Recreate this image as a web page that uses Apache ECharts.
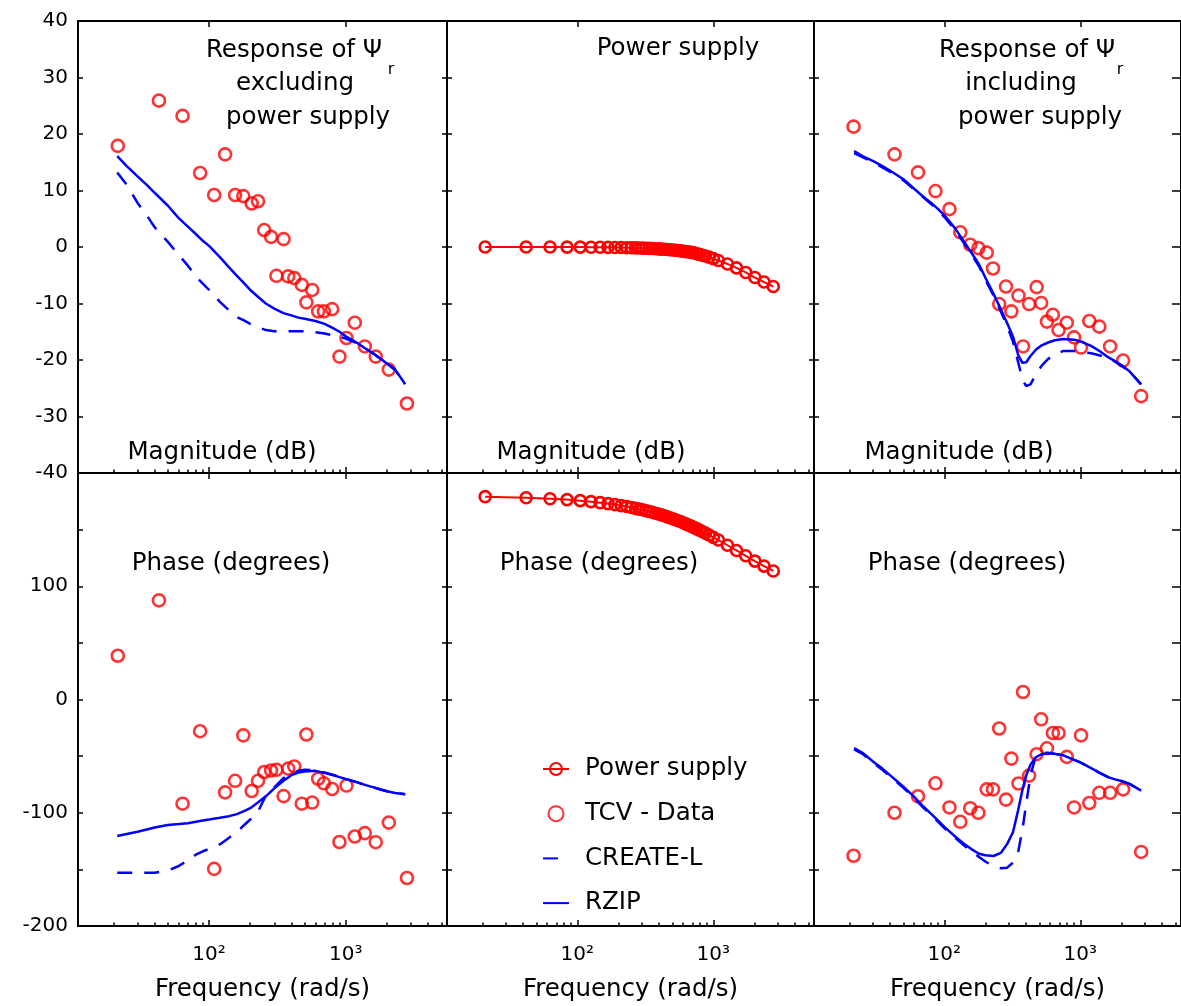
<!DOCTYPE html>
<html>
<head>
<meta charset="utf-8">
<title>Frequency response of Psi_r</title>
<script src="https://cdn.jsdelivr.net/npm/echarts@6/dist/echarts.min.js"></script>
<style>
  html, body { margin: 0; padding: 0; background: #ffffff; }
  #chart { width: 1181px; height: 1006px; }
</style>
</head>
<body>
<div id="chart"></div>
<script>
// ---------- measured TCV data (shared frequency points, rad/s) ----------
const tcvFreq = [21.5, 43, 64, 86, 109, 131, 155, 178, 205, 228, 253, 284, 311, 351, 379, 420, 477, 515, 568, 628, 692, 795, 899, 1012, 1164, 1378, 1656, 2064, 2802];
// response excluding the power supply
const tcvExclMag = [17.9, 25.9, 23.2, 13.1, 9.2, 16.4, 9.2, 9.0, 7.7, 8.1, 3.0, 1.8, -5.1, 1.4, -5.2, -5.5, -6.7, -9.8, -7.6, -11.4, -11.4, -11.0, -19.4, -16.1, -13.4, -17.6, -19.4, -21.7, -27.7];
const tcvExclPhase = [38.6, 87.5, -92, -28, -149.6, -82, -71.8, -31.7, -80.8, -71.8, -64, -62.7, -62, -85.3, -61, -59.1, -92, -30.9, -91, -70, -74, -79, -125.8, -76, -121, -118, -126, -108.7, -157.6];
// response including the power supply
const tcvInclMag = [21.3, 16.4, 13.2, 9.9, 6.7, 2.6, 0.4, -0.2, -1.0, -3.8, -10.1, -7.0, -11.4, -8.6, -17.6, -10.1, -7.1, -9.9, -13.2, -12.0, -14.7, -13.4, -16.0, -17.8, -13.1, -14.1, -17.6, -20.1, -26.4];
const tcvInclPhase = [-138, -100, -85.4, -74, -95.3, -108, -96, -100, -79.4, -79.4, -25.6, -88.4, -52.2, -74.2, 6.6, -67.2, -48.3, -17.5, -43.1, -29.6, -29.6, -50.7, -95.3, -31.7, -91.4, -82.4, -82.4, -79.4, -134.6];

// ---------- power supply ----------
const psFreq = [21, 42, 63, 84, 105, 126, 147, 168, 189, 210, 231, 250, 268, 285, 302, 320, 338, 356, 375, 395, 415, 436, 458, 480, 503, 527, 552, 578, 605, 633, 662, 692, 723, 756, 790, 830, 875, 930, 1000, 1090, 1270, 1480, 1730, 2020, 2360, 2760];
const psMag = [0.00, 0.00, -0.01, -0.02, -0.02, -0.04, -0.05, -0.06, -0.08, -0.10, -0.12, -0.14, -0.16, -0.18, -0.20, -0.22, -0.25, -0.27, -0.30, -0.33, -0.37, -0.40, -0.44, -0.48, -0.53, -0.58, -0.63, -0.68, -0.74, -0.81, -0.88, -0.95, -1.03, -1.20, -1.30, -1.45, -1.60, -1.80, -2.05, -2.40, -3.00, -3.70, -4.50, -5.40, -6.20, -7.00];
const psPhase = [179.1, 178.2, 177.3, 176.5, 175.6, 174.7, 173.8, 173.0, 172.1, 171.2, 170.4, 169.6, 168.8, 168.1, 167.5, 166.7, 166.0, 165.3, 164.5, 163.8, 163.0, 162.2, 161.3, 160.5, 159.6, 158.7, 157.8, 156.9, 155.9, 154.9, 153.9, 152.9, 151.8, 150.7, 149.6, 148.3, 146.9, 145.3, 143.2, 140.8, 136.2, 131.6, 126.9, 122.2, 117.8, 113.5];

// ---------- models, excluding power supply ----------
const exclModelFreq = [21.3, 25, 30, 35, 40, 50, 60, 70, 80, 90, 100, 120, 140, 160, 180, 200, 230, 260, 300, 350, 400, 450, 500, 600, 700, 800, 900, 1000, 1200, 1400, 1600, 1800, 2000, 2300, 2720];
const rzipExclMag = [16.1, 14.3, 12.5, 11.0, 9.6, 7.3, 5.1, 3.6, 2.3, 1.1, 0.2, -1.8, -3.6, -5.1, -6.4, -7.6, -8.9, -10.0, -10.9, -11.7, -12.1, -12.5, -12.7, -13.1, -13.6, -14.3, -15.0, -15.8, -16.9, -18.0, -18.9, -19.8, -20.6, -21.7, -24.3];
const createExclMag = [13.2, 11.0, 7.8, 5.6, 3.5, 0.9, -1.4, -3.3, -5.2, -6.5, -7.6, -9.7, -11.2, -12.4, -13.0, -13.6, -14.2, -14.7, -14.9, -14.9, -14.9, -14.9, -14.9, -15.1, -15.3, -15.6, -15.9, -16.2, -17.0, -18.0, -18.9, -19.8, -20.6, -21.8, -24.3];
const rzipExclPhase = [-120.6, -118.8, -116.8, -114.8, -113.0, -110.8, -110.0, -109.2, -108.0, -106.8, -106.0, -104.4, -103.0, -101.2, -98.6, -96.0, -90.5, -85.5, -78.5, -71.8, -66.8, -64.5, -63.5, -63.0, -64.8, -66.6, -68.5, -70.2, -73.0, -75.6, -77.6, -79.5, -81.0, -82.5, -83.6];
const createExclPhase = [-153, -153, -153, -153, -153, -151, -147, -142, -137, -134, -132, -128, -122, -117, -111, -106, -98, -85, -77.5, -69.5, -65.5, -63, -62, -62.5, -64.5, -66.4, -68.4, -70.1, -73, -75.6, -77.6, -79.5, -81, -82.5, -83.6];

// ---------- models, including power supply ----------
const inclModelFreq = [21.7, 25, 30, 35, 40, 50, 60, 70, 80, 90, 100, 120, 140, 160, 180, 200, 230, 260, 290, 320, 350, 375, 400, 430, 470, 520, 580, 650, 750, 900, 1000, 1200, 1400, 1600, 1800, 2000, 2300, 2800];
const rzipInclMag = [17.0, 16.1, 15.2, 14.3, 13.5, 12.0, 10.3, 8.9, 7.8, 6.7, 5.6, 3.3, 0.9, -1.2, -3.1, -5.4, -8.3, -11.0, -13.5, -15.9, -19.2, -20.5, -20.4, -19.3, -18.2, -17.4, -16.9, -16.5, -16.3, -16.4, -16.7, -17.5, -18.5, -19.5, -20.2, -20.9, -22.0, -24.3];
const createInclMag = [16.6, 15.9, 15.0, 14.1, 13.3, 11.8, 10.2, 8.8, 7.6, 6.5, 5.3, 3.0, 0.6, -1.5, -3.4, -5.8, -8.6, -11.4, -14.0, -16.8, -20.5, -23.5, -24.6, -24.3, -22.6, -21.0, -19.8, -19.0, -18.4, -18.4, -18.6, -18.8, -19.2, -19.7, -20.3, -21.0, -22.0, -24.3];
const rzipInclPhase = [-43, -47, -55, -61, -67, -77, -86, -94.5, -101, -107, -112.5, -121, -127.5, -132.5, -136.2, -137.5, -138.2, -135.5, -127.5, -117, -97, -80, -67, -57.5, -51, -48.3, -47.5, -48, -49.3, -53.3, -55.5, -60.6, -65, -68.5, -70.5, -72, -74.5, -80.5];
const createInclPhase = [-44, -48, -56, -62, -68, -78, -87, -95.5, -102, -108, -113.5, -122, -129, -134.5, -139, -143, -147.5, -149, -148.5, -144, -134, -115, -92, -67, -50, -47, -47, -48, -49.3, -53.3, -55.5, -60.6, -65, -68.5, -70.5, -72, -74.5, -80.5];

// ---------- axes ----------
const freqMajorTicks = [100, 1000];
const freqMinorTicks = [20, 30, 40, 50, 60, 70, 80, 90, 200, 300, 400, 500, 600, 700, 800, 900, 2000, 3000, 4000, 5000];
const freqRange = [11, 5500];
const magRange = [-40, 40, 10];
const phaseRange = [-200, 200, 50];

// ---------- layout and styling ----------
const FONT = 'DejaVu Sans';
const RED = '#ff0000';
const BLUE = '#0000ff';
const BLACK = '#000000';
const CLEAR = 'rgba(255,255,255,0)';
// the right-hand column runs slightly past the canvas edge, so its right frame is cut off
const columns = [{ left: 78, width: 369 }, { left: 447, width: 367 }, { left: 814, width: 372 }];
const rows = [{ top: 21, height: 452 }, { top: 473, height: 453 }];
const SUP = { 1: '\u00b9', 2: '\u00b2', 3: '\u00b3', 4: '\u2074' };

const pairs = (xs, ys) => xs.map((x, i) => [x, ys[i]]);

const grid = [], xAxis = [], yAxis = [], series = [];

rows.forEach((row, r) => {
  columns.forEach((col, c) => {
    const g = r * 3 + c;
    grid.push({ left: col.left, top: row.top, width: col.width, height: row.height, containLabel: false });
    const lineStyle = { color: BLACK, width: 2 };
    const tickStyle = { color: BLACK, width: 1.5 };
    // bottom axis: decades with labels
    xAxis.push({
      gridIndex: g, type: 'log', logBase: 10, min: freqRange[0], max: freqRange[1], position: 'bottom',
      axisLine: { show: true, onZero: false, lineStyle },
      axisTick: { show: true, inside: true, length: 6, customValues: freqMajorTicks, lineStyle: tickStyle },
      axisLabel: {
        show: r === 1, customValues: freqMajorTicks, color: BLACK, fontFamily: FONT, fontSize: 20, margin: 19,
        formatter: v => {
          const e = v > 10 ? Math.round(Math.log10(v)) : Math.round(v);
          return '10' + (SUP[e] || '');
        }
      },
      splitLine: { show: false },
      name: r === 1 ? 'Frequency (rad/s)' : '',
      nameLocation: 'middle', nameGap: 51,
      nameTextStyle: { color: BLACK, fontFamily: FONT, fontSize: 24.5 }
    });
    // bottom axis: minor ticks inside each decade
    xAxis.push({
      gridIndex: g, type: 'log', logBase: 10, min: freqRange[0], max: freqRange[1], position: 'bottom',
      axisLine: { show: false, onZero: false },
      axisTick: { show: true, inside: true, length: 3.5, customValues: freqMinorTicks, lineStyle: tickStyle },
      axisLabel: { show: false },
      splitLine: { show: false }
    });
    // top frame
    xAxis.push({
      gridIndex: g, type: 'log', logBase: 10, min: freqRange[0], max: freqRange[1], position: 'top',
      axisLine: { show: true, onZero: false, lineStyle },
      axisTick: { show: true, inside: true, length: 6, customValues: freqMajorTicks, lineStyle: tickStyle },
      axisLabel: { show: false },
      splitLine: { show: false }
    });
    const yr = r === 0 ? magRange : phaseRange;
    const fmt = r === 0
      ? (v => String(v))
      : (v => (v % 100 === 0 && v !== 200) ? String(v) : '');
    yAxis.push({
      gridIndex: g, type: 'value', min: yr[0], max: yr[1], interval: yr[2], position: 'left',
      axisLine: { show: true, onZero: false, lineStyle },
      axisTick: { show: true, inside: true, length: 5, lineStyle: tickStyle },
      axisLabel: {
        show: c === 0, color: BLACK, fontFamily: FONT, fontSize: 20, margin: 10,
        showMinLabel: true, showMaxLabel: true, formatter: fmt
      },
      splitLine: { show: false }
    });
    yAxis.push({
      gridIndex: g, type: 'value', min: yr[0], max: yr[1], interval: yr[2], position: 'right',
      axisLine: { show: true, onZero: false, lineStyle },
      axisTick: { show: true, inside: true, length: c === 2 ? 9 : 5, lineStyle: tickStyle },
      axisLabel: { show: false },
      splitLine: { show: false }
    });
  });
});

const axesOf = g => ({ xAxisIndex: g * 3, yAxisIndex: g * 2 });

function tcvSeries(g, ys) {
  return Object.assign({
    name: 'TCV - Data', type: 'scatter', data: pairs(tcvFreq, ys),
    symbol: 'circle', symbolSize: 12,
    itemStyle: { color: CLEAR, borderColor: RED, borderWidth: 2.6 },
    z: 2
  }, axesOf(g));
}
function modelSeries(g, name, xs, ys, dashed) {
  return Object.assign({
    name, type: 'line', data: pairs(xs, ys), symbol: 'none', showSymbol: false,
    lineStyle: { color: BLUE, width: 2.5, type: dashed ? [15, 12] : 'solid' },
    itemStyle: { color: CLEAR, borderWidth: 0 },
    z: 3
  }, axesOf(g));
}
function psSeries(g, ys) {
  return Object.assign({
    name: 'Power supply', type: 'line', data: pairs(psFreq, ys),
    symbol: 'circle', symbolSize: 11, showSymbol: true, showAllSymbol: true,
    lineStyle: { color: RED, width: 2 },
    itemStyle: { color: CLEAR, borderColor: RED, borderWidth: 2.6 },
    z: 2
  }, axesOf(g));
}

// magnitude row
series.push(tcvSeries(0, tcvExclMag));
series.push(modelSeries(0, 'CREATE-L', exclModelFreq, createExclMag, true));
series.push(modelSeries(0, 'RZIP', exclModelFreq, rzipExclMag, false));
series.push(psSeries(1, psMag));
series.push(tcvSeries(2, tcvInclMag));
series.push(modelSeries(2, 'CREATE-L', inclModelFreq, createInclMag, true));
series.push(modelSeries(2, 'RZIP', inclModelFreq, rzipInclMag, false));
// phase row
series.push(tcvSeries(3, tcvExclPhase));
series.push(modelSeries(3, 'CREATE-L', exclModelFreq, createExclPhase, true));
series.push(modelSeries(3, 'RZIP', exclModelFreq, rzipExclPhase, false));
series.push(psSeries(4, psPhase));
series.push(tcvSeries(5, tcvInclPhase));
series.push(modelSeries(5, 'CREATE-L', inclModelFreq, createInclPhase, true));
series.push(modelSeries(5, 'RZIP', inclModelFreq, rzipInclPhase, false));

// panel annotations
function label(text, x, y, size) {
  return {
    type: 'text', x, y, z: 10,
    style: {
      text, fill: BLACK, font: (size || 24.5) + 'px "' + FONT + '"',
      align: 'center', verticalAlign: 'middle', textAlign: 'center', textVerticalAlign: 'middle'
    }
  };
}
const graphic = [
  label('Response of \u03a8', 294, 51),
  label('excluding', 295, 84),
  label('power supply', 308, 118),
  label('r', 391, 70, 16),
  label('Power supply', 678, 49),
  label('Response of \u03a8', 1027, 51),
  label('including', 1021, 84),
  label('power supply', 1040, 118),
  label('r', 1120, 70, 16),
  label('Magnitude (dB)', 222, 453),
  label('Magnitude (dB)', 591, 453),
  label('Magnitude (dB)', 959, 453),
  label('Phase (degrees)', 231, 564),
  label('Phase (degrees)', 599, 564),
  label('Phase (degrees)', 967, 564)
];

const chart = echarts.init(document.getElementById('chart'), null, { renderer: 'canvas' });
chart.setOption({
  backgroundColor: '#ffffff',
  animation: false,
  grid, xAxis, yAxis, series, graphic,
  legend: {
    orient: 'vertical', left: 537, top: 749,
    itemWidth: 26, itemHeight: 15, itemGap: 14.7,
    selectedMode: false,
    data: ['Power supply', 'TCV - Data', 'CREATE-L', 'RZIP'],
    textStyle: { color: BLACK, fontFamily: FONT, fontSize: 24.5, lineHeight: 30, padding: [0, 0, 0, 11] }
  }
});
</script>
</body>
</html>
